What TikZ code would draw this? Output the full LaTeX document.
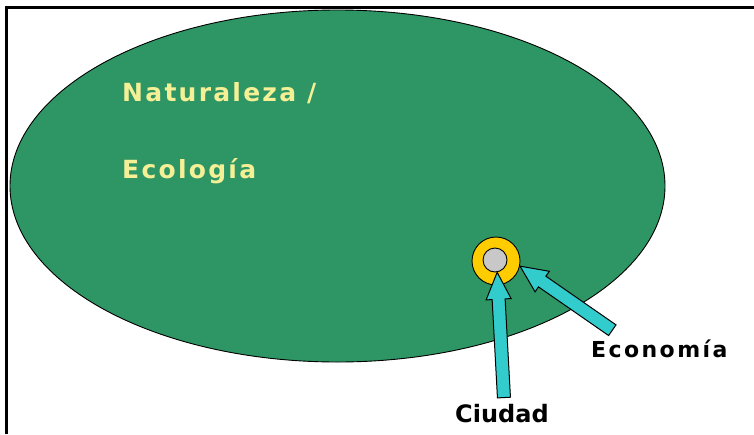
\documentclass[tikz,border=0pt]{standalone}
\usepackage{fontspec}
\setmainfont{DejaVu Sans}
\usetikzlibrary{calc}

\definecolor{leafgreen}{RGB}{46,150,100}
\definecolor{paleyellow}{RGB}{245,240,150}
\definecolor{ringgold}{RGB}{255,204,0}
\definecolor{citygray}{RGB}{200,200,200}
\definecolor{arrowcyan}{RGB}{51,204,204}

\newcommand\fatarrow[2]{%
	\filldraw[draw=black, fill=arrowcyan, line width=1pt, line join=miter]
		let \p1=(#1), \p2=(#2), \n1={atan2(\y2-\y1,\x2-\x1)}, \n2={veclen(\x2-\x1,\y2-\y1)} in
		[shift={(\p1)}, rotate=\n1]
		(0,-6.5) -- (\n2-27,-6.5) -- (\n2-27,-12.5) -- (\n2,0) -- (\n2-27,12.5) -- (\n2-27,6.5) -- (0,6.5) -- cycle;
}

\tikzset{
	bigword/.style={text=paleyellow, font=\fontsize{25}{30}\selectfont\bfseries\addfontfeature{LetterSpace=9}, anchor=base west, inner sep=0pt},
	smallword/.style 2 args={text=black, font=\fontsize{#1}{#1}\selectfont\bfseries\addfontfeature{LetterSpace=#2}, anchor=base west, inner sep=0pt}
}

\begin{document}
\begin{tikzpicture}[x=1pt,y=-1pt]
		\useasboundingbox (0,0) rectangle (754,434);
		\fill[white] (0,0) rectangle (754,434);
		\draw[line width=2.2pt] (6.5,434) -- (6.5,7.5) -- (754,7.5);
		\draw[fill=leafgreen, line width=0.9pt] (337.5,186) ellipse (327.5 and 176);
		\node[bigword] (nature) at (122,101) {Naturaleza /};
		\node[bigword] (ecology) at (122,178) {Ecología};
		\node[circle, draw, line width=0.9pt, fill=ringgold, minimum size=48pt, inner sep=0pt] (ring) at (496,261) {};
		\node[circle, draw, line width=0.9pt, fill=citygray, minimum size=24pt, inner sep=0pt] (city) at (495,260) {};
		\node[smallword={24}{0}] (ciudad) at (455,422) {Ciudad};
		\node[smallword={22}{11}] (economia) at (591,357) {Economía};
		\coordinate (ciudadtail) at ([xshift=2pt, yshift=6pt]ciudad.north);
		\coordinate (economiatail) at ([xshift=-47pt, yshift=9pt]economia.north);
		\fatarrow{ciudadtail}{city.-80}
		\fatarrow{economiatail}{ring.-12}
	\end{tikzpicture}
\end{document}
